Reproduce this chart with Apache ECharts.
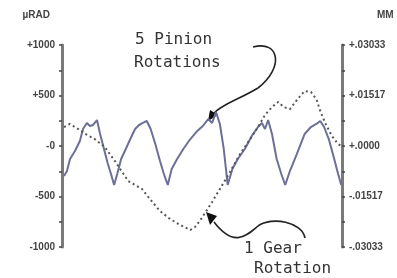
<!DOCTYPE html>
<html>
<head>
<meta charset="utf-8">
<script src="https://cdn.jsdelivr.net/npm/echarts@6/dist/echarts.min.js"></script>
<style>
    html, body { margin: 0; padding: 0; background: #fff; }
    #chart { width: 397px; height: 278px; }
</style>
</head>
<body>
<div id="chart"></div>
<script>
    // 数据 (angle in degrees of gear rotation, error in µrad)
    const pinionAngle = [2.6, 6.4, 10.3, 16.7, 23, 27, 32, 36, 40, 45, 49, 54, 59, 63, 67, 71, 76, 82, 89, 94, 99, 104, 109, 114, 120, 126, 131, 136, 141, 148, 156, 165, 174, 181, 188, 193, 198, 203, 208, 213, 219, 226, 235, 244, 252, 257, 261, 265, 270, 276, 282, 287, 293, 302, 312, 320, 327, 332, 337, 343, 350, 355, 359]
    const pinionUrad = [-297, -248, -129, -50, 50, 168, 228, 198, 208, 257, 119, -30, -178, -277, -386, -277, -129, -30, 89, 168, 208, 228, 248, 168, 20, -149, -277, -386, -228, -129, -30, 69, 149, 198, 267, 228, 337, 218, -30, -386, -228, -129, -30, 99, 188, 228, 168, 257, 119, -129, -277, -386, -248, -79, 119, 188, 218, 248, 188, 69, -129, -277, -386]

    const gearAngle = [2.6, 10, 21, 30, 42, 55, 68, 85, 103, 113, 126, 139, 152, 165, 171, 177, 184, 193, 203, 216, 229, 242, 252, 261, 270, 278, 285, 293, 303, 312, 320, 327, 332, 339, 347, 355, 359]
    const gearUrad = [188, 218, 168, 119, 69, -10, -149, -346, -426, -525, -644, -723, -782, -832, -802, -743, -663, -554, -426, -257, -79, 69, 188, 307, 386, 436, 386, 366, 465, 545, 535, 465, 347, 218, 99, 20, 0]

    const leftTicks = ['-1000', '-500', '-0', '+500', '+1000']
    const rightTicks = ['-.03033', '-.01517', '+.0000', '+.01517', '+.03033']

    let myChart = echarts.init(document.getElementById('chart'))

    let toPairs = function (xs, ys) {
        let res = []
        xs.forEach((x, i) => res.push([x, ys[i]]))
        return res
    }

    let axisColor = '#7a7a7a'
    let labelStyle = {
        color: '#444',
        fontSize: 10,
        fontWeight: 'bold',
        fontFamily: 'Liberation Sans'
    }
    let handFont = 'DejaVu Sans Mono'

    let yAxisBase = function (labels, pos) {
        return {
            type: 'value',
            position: pos,
            min: -1000,
            max: 1000,
            interval: 500,
            splitLine: { show: false },
            axisLine: { show: true, lineStyle: { color: axisColor, width: 3 } },
            axisTick: { show: true, length: 3, lineStyle: { color: '#444', width: 1.5 } },
            minorTick: { show: true, splitNumber: 2, length: 3, lineStyle: { color: '#444', width: 1.5 } },
            axisLabel: Object.assign({
                margin: 7,
                formatter: function (value) {
                    return labels[Math.round((value + 1000) / 500)]
                }
            }, labelStyle)
        }
    }

    let leftAxis = yAxisBase(leftTicks, 'left')
    leftAxis.name = 'µRAD'
    leftAxis.nameGap = 25
    leftAxis.nameTextStyle = Object.assign({ align: 'right', padding: [0, 12, 0, 0] }, labelStyle)

    let rightAxis = yAxisBase(rightTicks, 'right')
    rightAxis.name = 'MM'
    rightAxis.nameGap = 25
    rightAxis.nameTextStyle = Object.assign({ align: 'left', padding: [0, 0, 0, 35] }, labelStyle)

    let handText = function (text, x, y) {
        return {
            type: 'text',
            x: x,
            y: y,
            style: { text: text, fill: '#333', fontSize: 16, fontFamily: handFont, align: 'left', verticalAlign: 'middle' }
        }
    }
    let curve = function (p) {
        return {
            type: 'bezierCurve',
            shape: { x1: p[0], y1: p[1], cpx1: p[2], cpy1: p[3], cpx2: p[4], cpy2: p[5], x2: p[6], y2: p[7] },
            style: { fill: null, stroke: '#222', lineWidth: 1.6 }
        }
    }

    let option = {
        animation: false,
        grid: { left: 62, right: 55, top: 45, bottom: 31 },
        xAxis: {
            type: 'value',
            min: 0,
            max: 360,
            show: false
        },
        yAxis: [leftAxis, rightAxis],
        series: [{
            type: 'line',
            name: 'pinion',
            data: toPairs(pinionAngle, pinionUrad),
            showSymbol: false,
            lineStyle: { color: '#6c7096', width: 2 }
        }, {
            type: 'line',
            name: 'gear',
            data: toPairs(gearAngle, gearUrad),
            showSymbol: false,
            lineStyle: { color: '#555', width: 2, type: [2, 3] }
        }],
        graphic: [
            handText('5 Pinion', 135, 40),
            handText('Rotations', 134, 63),
            handText('1 Gear', 244, 249),
            handText('Rotation', 254, 269),
            curve([253, 47, 280, 40, 284, 68, 258, 88]),
            curve([258, 88, 238, 100, 222, 104, 213, 114]),
            {
                type: 'polygon',
                shape: { points: [[208, 121], [210, 110], [218, 115]] },
                style: { fill: '#111' }
            },
            curve([305, 238, 302, 222, 272, 216, 258, 226]),
            curve([258, 226, 246, 236, 234, 248, 214, 222]),
            {
                type: 'polygon',
                shape: { points: [[206, 212], [217, 216], [210, 225]] },
                style: { fill: '#111' }
            }
        ]
    }

    myChart.setOption(option)
</script>
</body>
</html>
